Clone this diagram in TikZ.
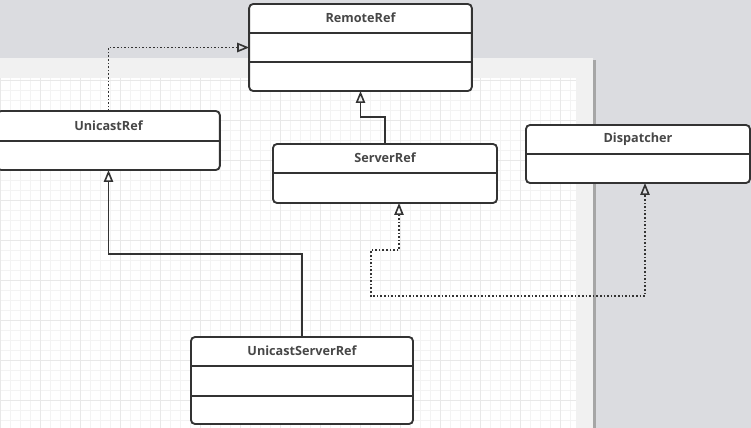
\documentclass[tikz,border=0pt]{standalone}
\usepackage{fontspec}
\setmainfont{Open Sans}
\usetikzlibrary{positioning, arrows.meta}
\definecolor{ink}{HTML}{333333}
\definecolor{desk}{HTML}{DBDCE0}
\definecolor{sheet}{HTML}{F1F1F1}
\definecolor{minorgrid}{HTML}{F3F3F3}
\definecolor{majorgrid}{HTML}{E8E8E8}
\tikzset{
  hollow/.tip={Triangle[open, length=9pt, width=7pt]},
  cls/.style={
      rectangle,
      draw=ink,
      line width=1.4pt,
      rounded corners=3pt,
      fill=white,
      minimum width=167pt,
      inner sep=0pt,
      outer sep=0pt
    },
  ttl/.style={
      font=\fontsize{9.5}{11}\selectfont\bfseries,
      text=ink!90,
      inner sep=0pt
    },
  sep/.style={
      draw=ink,
      line width=1.4pt
    },
  gen/.style={
      draw=ink,
      line width=1.2pt,
      -hollow
    },
  real/.style={
      gen,
      dash pattern=on 1.2pt off 1.5pt
    }
}

\begin{document}
\begin{tikzpicture}[x=0.75pt, y=-0.75pt]
  \useasboundingbox (0,0) rectangle (751,428);
  % desk, sheet and its grid
  \fill[desk] (0,0) rectangle (751,428);
  \fill[black!35] (593,60) rectangle (596,428);
  \fill[sheet] (-5,58) rectangle (593,428);
  \fill[white] (-5,78) rectangle (576,428);
  \draw[minorgrid, line width=0.5pt, step=7.5pt] (-5,428) grid (576,78);
  \draw[majorgrid, line width=0.6pt, step=30pt] (-5,428) grid (576,78);

  % classes
  \node[cls, minimum height=65.25pt] (rr) at (360.5,47.5) {};
  \node[ttl] (rrt) at ([shift={(0,14)}]rr.north) {RemoteRef};
  \draw[sep] ([shift={(0,29)}]rr.north west) -- ([shift={(0,29)}]rr.north east);
  \draw[sep] ([shift={(0,58)}]rr.north west) -- ([shift={(0,58)}]rr.north east);

  \node[cls, minimum height=44.25pt] (ur) at (108.5,140.5) {};
  \node[ttl] (urt) at ([shift={(0,15)}]ur.north) {UnicastRef};
  \draw[sep] ([shift={(0,30)}]ur.north west) -- ([shift={(0,30)}]ur.north east);

  \node[cls, minimum width=168pt, minimum height=44.25pt] (sr) at (385,173.5) {};
  \node[ttl] (srt) at ([shift={(0,14)}]sr.north) {ServerRef};
  \draw[sep] ([shift={(0,29)}]sr.north west) -- ([shift={(0,29)}]sr.north east);

  \node[cls, minimum width=168pt, minimum height=43.5pt] (dp) at (638,154) {};
  \node[ttl] (dpt) at ([shift={(0,14)}]dp.north) {Dispatcher};
  \draw[sep] ([shift={(0,29)}]dp.north west) -- ([shift={(0,29)}]dp.north east);

  \node[cls, minimum width=166.5pt, minimum height=65.25pt] (usr) at (302,380.5) {};
  \node[ttl] (usrt) at ([shift={(0,14)}]usr.north) {UnicastServerRef};
  \draw[sep] ([shift={(0,29)}]usr.north west) -- ([shift={(0,29)}]usr.north east);
  \draw[sep] ([shift={(0,59)}]usr.north west) -- ([shift={(0,59)}]usr.north east);

  % connectors
  \draw[real] (ur.north) |- (rr.west);
  \draw[gen] (sr.north) -- ++(0,-27) -| (rr.south);
  \draw[gen] (usr.north) -- ++(0,-83) -| (ur.south);
  \draw[real, hollow-hollow] ([shift={(14,0)}]sr.south) -- ++(0,47) -- ++(-28,0)
    -- ++(0,46) -| ([shift={(7,0)}]dp.south);
\end{tikzpicture}
\end{document}
